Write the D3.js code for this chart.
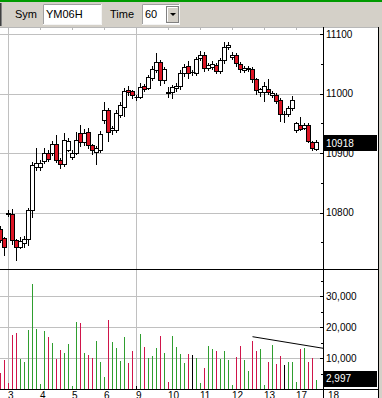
<!DOCTYPE html>
<html><head><meta charset="utf-8">
<script src="https://cdn.jsdelivr.net/npm/d3@7"></script>
<style>html,body{margin:0;padding:0;background:#fff;overflow:hidden}svg{display:block}</style>
</head><body>
<script>
// ---------- DATA (hourly bars, YM06H, January 2006) ----------
const symbol = "YM06H";
const timeframe = "60";
const dayLabels = ["3","4","5","6","9","10","11","12","13","17","18"];
const dayStartIndex = [2,10,18,26,34,42,50,58,66,74,82];
const weekGridIndex = [2,34];
const opens  = [10773,10757,10800,10798,10754,10743,10749,10756,10804,10877,
                10876,10887,10901,10900,10915,10888,10882,10906,10894,10901,
                10934,10919,10935,10914,10902,10905,10956,10972,10938,10939,
                10964,10978,11006,11004,10995,10994,11013,11010,11026,11040,
                11053,11023,11003,11002,11009,11012,11035,11046,11036,11035,
                11060,11065,11043,11045,11048,11038,11056,11078,11061,11065,
                11050,11040,11041,11042,11024,11003,11002,11008,10998,10998,
                10990,10966,10966,10976,10938,10948,10942,10947,10919,10907];
const highs  = [10778,10760,10804,10806,10756,10760,10761,10808,10885,10908,
                10889,10909,10905,10920,10930,10892,10934,10926,10906,10935,
                10947,10940,10942,10916,10912,10937,10986,10976,10946,10972,
                10986,11010,11012,11006,10998,11018,11016,11032,11046,11068,
                11057,11045,11011,11015,11017,11040,11049,11054,11040,11062,
                11071,11069,11052,11054,11052,11060,11087,11087,11070,11068,
                11053,11046,11046,11044,11026,11010,11020,11024,11004,11001,
                10993,10970,10979,10996,10953,10960,10950,10950,10921,10922];
const lows   = [10750,10729,10795,10747,10720,10740,10742,10746,10793,10872,
                10871,10883,10886,10897,10885,10875,10878,10903,10890,10898,
                10912,10914,10909,10898,10882,10902,10950,10921,10932,10936,
                10960,10963,10998,10992,10990,10992,11005,11007,11022,11037,
                11015,11018,10994,10993,11005,11008,11030,11026,11032,11032,
                11056,11038,11039,11041,11034,11035,11052,11075,11058,11046,
                11037,11037,11038,11020,11000,10996,10988,11000,10995,10985,
                10954,10953,10963,10973,10936,10938,10940,10918,10905,10905];
const closes = [10754,10742,10799,10754,10743,10752,10756,10804,10880,10883,
                10883,10901,10890,10915,10888,10882,10922,10921,10901,10922,
                10919,10934,10914,10905,10909,10932,10972,10935,10942,10967,
                10981,11005,11002,10998,10995,11011,11008,11028,11041,11053,
                11023,11041,11002,11011,11013,11035,11045,11035,11036,11058,
                11065,11043,11048,11050,11038,11056,11078,11082,11065,11051,
                11042,11043,11043,11024,11006,11008,11013,11003,11001,10988,
                10965,10966,10976,10990,10950,10941,10947,10920,10908,10918];
const volumes = [5160,9350,1840,17400,18160,9680,8820,19030,33870,19350,
                 1720,18820,16880,14730,9680,12580,11720,14520,1080,21720,
                 21400,11720,10970,9890,15480,8820,3870,22260,15270,13330,
                 9030,16880,8490,12260,970,17740,13650,10100,10750,13120,
                 17200,11500,2370,17200,13650,11180,8490,11290,10970,9890,
                 2040,6880,13970,12900,12260,9680,12260,9350,1290,10420,
                 13970,9350,5800,15480,12260,12900,1290,8820,14190,8060,
                 10640,7740,8820,8820,2370,12900,13120,8820,9890,2997];
const priceTicks = [10800,10900,11000,11100];
const priceMinorTicks = [10750,10850,10950,11050];
const volTicks = [10000,20000,30000];
const volMinorTicks = [5000,15000,25000,35000];
const trendIdx = [63, 80.7];
const trendVol = [16870, 13130];

// ---------- LAYOUT ----------
const W = 382, H = 398;
const axisX = 323, rightX = 378;
const priceTop = 28, priceBottom = 269, volBottom = 389;
const font = "'Liberation Sans', Arial, sans-serif";

const x = d3.scaleLinear().domain([0, 79]).range([0.5, 316.5]);
const yP = d3.scaleLinear().domain([10800, 11100]).range([212.7, 34]);
const yV = d3.scaleLinear().domain([0, 30000]).range([volBottom, 296]);
const snap = v => Math.round(v) + 0.5;

const bars = opens.map((o, i) => ({i, o, h: highs[i], l: lows[i], c: closes[i], v: volumes[i]}));

const svg = d3.select("body").append("svg").attr("width", W).attr("height", H);

// ---------- TOOLBAR ----------
svg.append("rect").attr("x",0).attr("y",0).attr("width",W).attr("height",27).attr("fill","#d4d0c8");
svg.append("rect").attr("x",0).attr("y",0).attr("width",W).attr("height",2).attr("fill","#009a00");
svg.append("line").attr("x1",0.5).attr("x2",0.5).attr("y1",3).attr("y2",26).attr("stroke","#404040");
svg.append("line").attr("x1",1.5).attr("x2",1.5).attr("y1",3).attr("y2",26).attr("stroke","#808080");

function sunkenBox(x0, y0, w, h) {
  svg.append("rect").attr("x",x0).attr("y",y0).attr("width",w).attr("height",h).attr("fill","#fff");
  svg.append("path").attr("d",`M${x0+0.5},${y0+h}V${y0+0.5}H${x0+w}`).attr("stroke","#a0a0a0").attr("fill","none");
  svg.append("path").attr("d",`M${x0+w-0.5},${y0}V${y0+h-0.5}H${x0}`).attr("stroke","#f4f4f4").attr("fill","none");
}
svg.append("text").attr("x",15).attr("y",18).attr("font-family",font).attr("font-size",11).attr("fill","#000").text("Sym");
sunkenBox(43, 4, 59, 21);
svg.append("text").attr("x",46).attr("y",18).attr("font-family",font).attr("font-size",11).attr("fill","#000").text(symbol);
svg.append("text").attr("x",110).attr("y",18).attr("font-family",font).attr("font-size",11).attr("fill","#000").text("Time");
sunkenBox(142, 4, 38, 21);
svg.append("text").attr("x",145).attr("y",18).attr("font-family",font).attr("font-size",11).attr("fill","#000").text(timeframe);
svg.append("rect").attr("x",166.5).attr("y",6.5).attr("width",12).attr("height",16).attr("fill","#d4d0c8").attr("stroke","#808080");
svg.append("path").attr("d","M167.5,21.5V7.5H177.5").attr("stroke","#fff").attr("fill","none");
svg.append("path").attr("d","M170,13H176L173,16Z").attr("fill","#000");

// ---------- CHART BACKGROUND ----------
svg.append("rect").attr("x",0).attr("y",27).attr("width",rightX).attr("height",H-27).attr("fill","#fff");
svg.append("rect").attr("x",rightX+1).attr("y",27).attr("width",W-rightX-1).attr("height",H-27).attr("fill","#d4d0c8");
svg.append("line").attr("x1",0).attr("x2",rightX).attr("y1",27.5).attr("y2",27.5).attr("stroke","#b8b8b8");

const grid = "#c0c0c0";
svg.selectAll(".pg").data(priceTicks).join("line")
  .attr("x1",0).attr("x2",axisX).attr("y1",d=>snap(yP(d))).attr("y2",d=>snap(yP(d))).attr("stroke",grid);
svg.selectAll(".vg").data(volTicks).join("line")
  .attr("x1",0).attr("x2",axisX).attr("y1",d=>snap(yV(d))).attr("y2",d=>snap(yV(d))).attr("stroke",grid);
svg.selectAll(".wg").data(weekGridIndex).join("line")
  .attr("x1",d=>x(d)).attr("x2",d=>x(d)).attr("y1",priceTop).attr("y2",volBottom).attr("stroke",grid);
svg.selectAll(".dt").data(dayStartIndex.filter(d=>x(d)<axisX)).join("line")
  .attr("x1",d=>x(d)).attr("x2",d=>x(d)).attr("y1",28).attr("y2",30).attr("stroke","#b8b8b8");

// ---------- CANDLES ----------
const pricePanel = svg.append("g");
const upFill = "#ffffff", downFill = "#dc1424";
pricePanel.selectAll(".wick").data(bars).join("line")
  .attr("x1",d=>x(d.i)).attr("x2",d=>x(d.i))
  .attr("y1",d=>Math.round(yP(d.h))).attr("y2",d=>Math.round(yP(d.l))+1)
  .attr("stroke","#000");
pricePanel.selectAll(".body").data(bars.filter(d=>d.o!==d.c)).join("rect")
  .attr("x",d=>x(d.i)-2).attr("width",4)
  .attr("y",d=>snap(yP(Math.max(d.o,d.c))))
  .attr("height",d=>Math.max(1, Math.round(yP(Math.min(d.o,d.c))) - Math.round(yP(Math.max(d.o,d.c)))))
  .attr("fill",d=>d.c>d.o?upFill:downFill).attr("stroke","#000");
pricePanel.selectAll(".doji").data(bars.filter(d=>d.o===d.c)).join("line")
  .attr("x1",d=>x(d.i)-2).attr("x2",d=>x(d.i)+3)
  .attr("y1",d=>snap(yP(d.o))).attr("y2",d=>snap(yP(d.o))).attr("stroke","#000");

// ---------- VOLUME ----------
const volColor = d => d.c>d.o ? "#2f9e2f" : (d.c<d.o ? "#d0144a" : "#000");
svg.selectAll(".vol").data(bars).join("line")
  .attr("x1",d=>x(d.i)).attr("x2",d=>x(d.i))
  .attr("y1",volBottom).attr("y2",d=>Math.round(yV(d.v)))
  .attr("stroke",volColor);

svg.append("line")
  .attr("x1",x(trendIdx[0])).attr("y1",yV(trendVol[0]))
  .attr("x2",x(trendIdx[1])).attr("y2",yV(trendVol[1]))
  .attr("stroke","#000");

// ---------- FRAME ----------
svg.append("line").attr("x1",0).attr("x2",rightX).attr("y1",priceBottom+0.5).attr("y2",priceBottom+0.5).attr("stroke","#000");
svg.append("line").attr("x1",0).attr("x2",rightX).attr("y1",volBottom+0.5).attr("y2",volBottom+0.5).attr("stroke","#000");
svg.append("line").attr("x1",axisX+0.5).attr("x2",axisX+0.5).attr("y1",27).attr("y2",H).attr("stroke","#000");
svg.append("line").attr("x1",rightX+0.5).attr("x2",rightX+0.5).attr("y1",27).attr("y2",H).attr("stroke","#000");

// ---------- AXES ----------
const axisG = svg.append("g");
axisG.selectAll(".pt").data(priceTicks).join("line")
  .attr("x1",axisX-3).attr("x2",axisX).attr("y1",d=>snap(yP(d))).attr("y2",d=>snap(yP(d))).attr("stroke","#000");
axisG.selectAll(".pmt").data(priceMinorTicks).join("line")
  .attr("x1",axisX-2).attr("x2",axisX).attr("y1",d=>snap(yP(d))).attr("y2",d=>snap(yP(d))).attr("stroke","#000");
axisG.selectAll(".pl").data(priceTicks).join("text")
  .attr("x",axisX+3).attr("y",d=>yP(d)).attr("dy","0.36em")
  .attr("font-family",font).attr("font-size",10).attr("fill","#000").text(d=>d);
axisG.selectAll(".vt").data(volTicks).join("line")
  .attr("x1",axisX-3).attr("x2",axisX).attr("y1",d=>snap(yV(d))).attr("y2",d=>snap(yV(d))).attr("stroke","#000");
axisG.selectAll(".vmt").data(volMinorTicks).join("line")
  .attr("x1",axisX-2).attr("x2",axisX).attr("y1",d=>snap(yV(d))).attr("y2",d=>snap(yV(d))).attr("stroke","#000");
axisG.selectAll(".vl").data(volTicks).join("text")
  .attr("x",axisX+3).attr("y",d=>yV(d)).attr("dy","0.36em")
  .attr("font-family",font).attr("font-size",10).attr("fill","#000").text(d=>d3.format(",")(d));

const lastC = closes[closes.length-1], lastV = volumes[volumes.length-1];
svg.append("rect").attr("x",axisX).attr("y",Math.round(yP(lastC))-7).attr("width",rightX-axisX-1).attr("height",16).attr("fill","#000");
svg.append("text").attr("x",axisX+3).attr("y",yP(lastC)+1).attr("dy","0.36em")
  .attr("font-family",font).attr("font-size",10).attr("fill","#fff").text(lastC);
svg.append("rect").attr("x",axisX).attr("y",Math.round(yV(lastV))-9).attr("width",rightX-axisX-1).attr("height",16).attr("fill","#000");
svg.append("text").attr("x",axisX+3).attr("y",yV(lastV)-1).attr("dy","0.36em")
  .attr("font-family",font).attr("font-size",10).attr("fill","#fff").text(d3.format(",")(lastV));

// day labels
svg.selectAll(".dl").data(dayLabels).join("text")
  .attr("x",(d,k)=>x(dayStartIndex[k])-0.5).attr("y",398.5)
  .attr("font-family",font).attr("font-size",10).attr("fill","#000").text(d=>d);
</script>
</body></html>
